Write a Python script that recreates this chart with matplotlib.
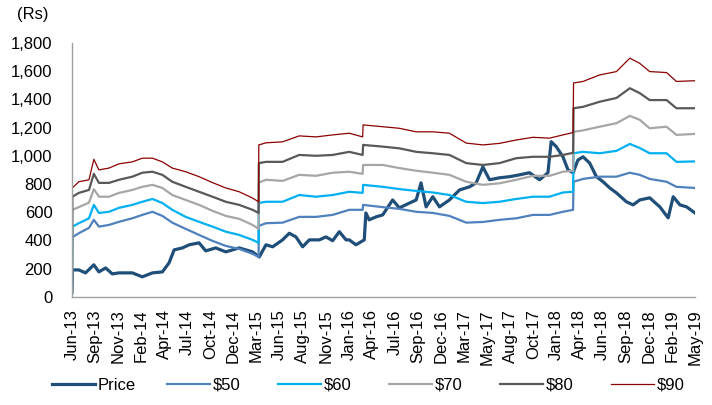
import matplotlib.pyplot as plt
from matplotlib.ticker import FuncFormatter

plt.rcParams['font.family'] = ['Liberation Sans', 'DejaVu Sans']

# x axis labels (one per tick, evenly spaced like the Excel category axis)
tick_labels = ['Jun-13', 'Sep-13', 'Nov-13', 'Feb-14', 'Apr-14', 'Jul-14', 'Oct-14',
               'Dec-14', 'Mar-15', 'Jun-15', 'Aug-15', 'Nov-15', 'Jan-16', 'Apr-16',
               'Jul-16', 'Sep-16', 'Dec-16', 'Mar-17', 'May-17', 'Aug-17', 'Oct-17',
               'Jan-18', 'Apr-18', 'Jun-18', 'Sep-18', 'Dec-18', 'Feb-19', 'May-19']

# positions in tick-label units (0 = Jun-13, 27 = May-19)
band_pos = [0, 0.02, 0.30, 0.74, 0.95, 1.17, 1.61, 2.04, 2.62, 3.05, 3.49, 3.92, 4.35,
            4.93, 5.51, 6.09, 6.67, 7.25, 7.83, 8.09, 8.10, 8.41, 9.13, 9.85, 10.58,
            11.30, 12.02, 12.60, 12.62, 13.47, 14.19, 14.92, 15.64, 16.36, 17.09, 17.81,
            18.53, 19.26, 19.98, 20.70, 21.28, 21.72, 21.74, 22.15, 22.87, 23.60, 24.18,
            24.61, 25.04, 25.77, 26.20, 27.0]

usd90 = [60, 772, 816, 830, 975, 900, 913, 943, 957, 983, 983, 957, 913, 887, 852, 810,
         772, 745, 700, 674, 1077, 1092, 1099, 1141, 1134, 1148, 1160, 1134, 1219, 1206,
         1195, 1170, 1170, 1160, 1090, 1077, 1088, 1112, 1131, 1125, 1148, 1165, 1516,
         1527, 1573, 1597, 1692, 1655, 1597, 1590, 1527, 1532]
usd80 = [30, 710, 737, 758, 872, 808, 808, 830, 852, 880, 887, 865, 816, 780, 745, 710,
         674, 652, 617, 595, 948, 957, 957, 1006, 1000, 1006, 1028, 1006, 1077, 1065,
         1053, 1028, 1018, 1006, 948, 935, 948, 983, 993, 993, 1006, 1021, 1337, 1347,
         1383, 1410, 1479, 1444, 1395, 1395, 1337, 1337]
usd70 = [30, 617, 636, 668, 764, 710, 710, 737, 758, 780, 794, 772, 722, 687, 652, 610,
         574, 553, 510, 482, 810, 830, 822, 865, 858, 880, 887, 872, 935, 935, 913, 894,
         880, 865, 816, 794, 805, 830, 858, 858, 887, 894, 1170, 1180, 1206, 1231, 1283,
         1255, 1195, 1206, 1148, 1155]
usd60 = [30, 498, 522, 557, 652, 595, 603, 631, 652, 674, 694, 665, 617, 567, 532, 498,
         462, 439, 404, 383, 665, 674, 674, 722, 710, 722, 745, 737, 794, 780, 764, 751,
         740, 722, 674, 665, 674, 694, 710, 710, 740, 745, 1018, 1028, 1018, 1035, 1084,
         1055, 1018, 1018, 957, 960]
usd50 = [30, 423, 451, 489, 546, 498, 510, 532, 557, 581, 603, 574, 526, 482, 439, 397,
         361, 340, 305, 283, 503, 522, 526, 567, 567, 581, 617, 617, 652, 636, 624, 603,
         595, 574, 526, 531, 546, 557, 581, 581, 603, 617, 816, 836, 852, 852, 880, 865,
         836, 816, 780, 772]

price_pos = [0, 0.02, 0.30, 0.59, 0.95, 1.17, 1.46, 1.75, 2.04, 2.62, 3.05, 3.49, 3.92,
             4.21, 4.43, 4.79, 5.08, 5.51, 5.80, 6.23, 6.67, 7.25, 7.83, 8.12, 8.41, 8.70,
             9.13, 9.42, 9.71, 10.0, 10.29, 10.72, 11.01, 11.30, 11.59, 11.88, 12.02,
             12.31, 12.67, 12.74, 12.88, 13.18, 13.47, 13.90, 14.19, 14.63, 14.92, 15.13,
             15.35, 15.64, 15.93, 16.36, 16.80, 17.23, 17.52, 17.81, 18.10, 18.53, 18.97,
             19.40, 19.83, 20.27, 20.63, 20.77, 20.99, 21.28, 21.50, 21.72, 21.93, 22.15,
             22.44, 22.73, 23.02, 23.31, 23.60, 24.03, 24.32, 24.61, 25.04, 25.48, 25.84,
             26.06, 26.35, 26.64, 27.0]
price = [30, 191, 191, 170, 227, 177, 205, 163, 170, 170, 142, 170, 177, 241, 333, 347,
         369, 383, 326, 347, 319, 347, 319, 283, 369, 355, 404, 451, 425, 355, 404, 404,
         425, 398, 462, 404, 404, 369, 404, 595, 546, 567, 581, 687, 631, 665, 687, 808,
         638, 710, 638, 687, 758, 780, 808, 921, 830, 844, 852, 865, 880, 830, 880, 1100,
         1065, 993, 900, 880, 970, 993, 948, 852, 816, 772, 737, 674, 652, 687, 702, 638,
         560, 710, 652, 638, 595]

fig = plt.figure(figsize=(7.12, 4.05), dpi=100)
ax = fig.add_axes([0.101, 0.267, 0.875, 0.627])

ax.plot(price_pos, price, color='#1F4E79', lw=2.3, label='Price')
ax.plot(band_pos, usd50, color='#4F81BD', lw=1.6, label='$50')
ax.plot(band_pos, usd60, color='#00B0F0', lw=1.6, label='$60')
ax.plot(band_pos, usd70, color='#A6A6A6', lw=1.6, label='$70')
ax.plot(band_pos, usd80, color='#595959', lw=1.6, label='$80')
ax.plot(band_pos, usd90, color='#8B0000', lw=0.9, label='$90')

ax.set_xlim(0, 27)
ax.set_ylim(0, 1800)
ax.set_yticks(range(0, 1801, 200))
ax.yaxis.set_major_formatter(FuncFormatter(lambda v, p: f'{int(v):,}'))
ax.set_xticks(range(len(tick_labels)))
ax.set_xticklabels(tick_labels, rotation=90)
ax.tick_params(axis='both', length=0, labelsize=12)
ax.tick_params(axis='y', pad=14)
ax.tick_params(axis='x', pad=9)

for s in ['top', 'right']:
    ax.spines[s].set_visible(False)
for s in ['left', 'bottom']:
    ax.spines[s].set_color('#A0A0A0')
    ax.spines[s].set_linewidth(1)

fig.text(0.024, 0.963, '(Rs)', fontsize=12, va='center', ha='left')

# one small legend per entry so each sits where Excel put it
handles, labels = ax.get_legend_handles_labels()
legend_x = [0.073, 0.234, 0.39, 0.546, 0.702, 0.858]
for h, lab, lx in zip(handles, labels, legend_x):
    fig.legend([h], [lab], loc='center left', bbox_to_anchor=(lx, 0.049), frameon=False,
               fontsize=12, handlelength=2.6, handletextpad=0.15, borderpad=0,
               borderaxespad=0)

fig.savefig('out.png', dpi=100)
